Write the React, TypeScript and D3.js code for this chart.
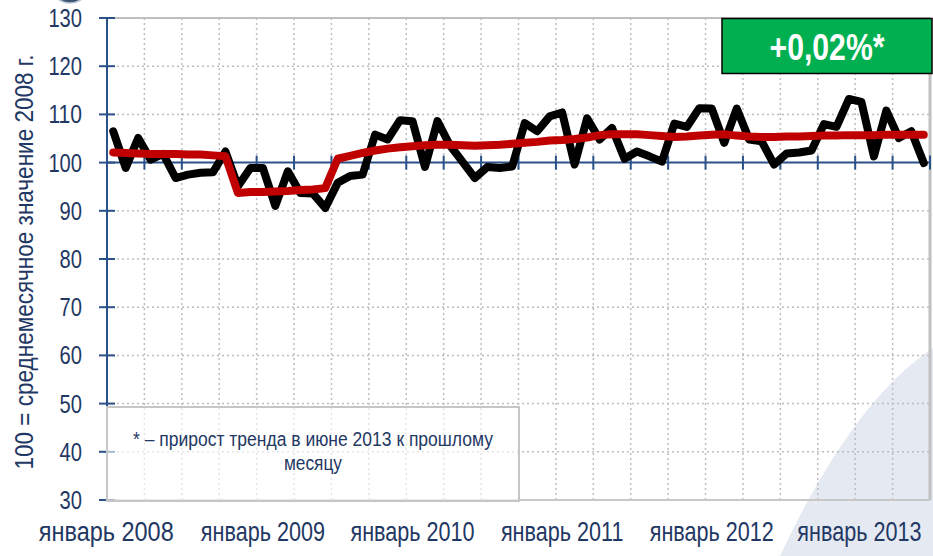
import * as d3 from 'd3';

// monthly index, 100 = average month of 2008
const months = d3.timeMonth.range(new Date(2008, 0, 1), new Date(2013, 6, 1));

const actual = [
  106.5, 98.9, 105.1, 100.6, 101.8, 96.8, 97.5, 97.9, 98.0, 102.3, 95.1, 98.9,
  98.9, 91.0, 98.2, 93.7, 93.6, 90.6, 95.8, 97.2, 97.5, 105.8, 104.8, 108.8,
  108.6, 99.1, 108.6, 103.6, 100.2, 96.8, 99.1, 98.9, 99.2, 108.2, 106.5, 109.6,
  110.4, 99.6, 109.2, 104.8, 107.2, 100.8, 102.3, 101.3, 100.2, 108.1, 107.4, 111.3,
  111.2, 104.1, 111.2, 104.8, 104.4, 99.6, 101.9, 102.1, 102.5, 108.0, 107.4, 113.2,
  112.6, 101.3, 110.8, 105.1, 106.5, 99.9,
];

const trend = [
  102.1, 102.0, 101.9, 101.8, 101.8, 101.8, 101.7, 101.7, 101.5, 101.3, 93.7, 93.9,
  93.9, 94.0, 94.1, 94.3, 94.4, 94.7, 100.8, 101.4, 102.0, 102.5, 102.9, 103.2,
  103.4, 103.6, 103.7, 103.7, 103.6, 103.5, 103.6, 103.7, 103.9, 104.1, 104.3, 104.6,
  104.7, 104.9, 105.2, 105.7, 105.9, 105.9, 105.9, 105.7, 105.5, 105.3, 105.4, 105.6,
  105.8, 105.9, 105.6, 105.4, 105.3, 105.3, 105.4, 105.4, 105.5, 105.6, 105.6, 105.7,
  105.7, 105.7, 105.8, 105.8, 105.8, 105.8,
];

const yTicks = [30, 40, 50, 60, 70, 80, 90, 100, 110, 120, 130];
const xLabels = ['январь 2008', 'январь 2009', 'январь 2010', 'январь 2011', 'январь 2012', 'январь 2013'];

const W = 933;
const H = 556;
const margin = { top: 18, right: 3, bottom: 56, left: 107 };
const navy = '#1f3864';
const axisBlue = '#2b5189';
const font = '"Liberation Sans", Arial, sans-serif';

export default function App() {
  const x0 = margin.left;
  const x1 = W - margin.right;
  const y0 = H - margin.bottom;
  const y1 = margin.top;

  const idx = d3.range(months.length);
  const x = d3.scalePoint<number>().domain(idx).range([x0, x1]).padding(0.5);
  const step = x.step();
  const y = d3.scaleLinear().domain([30, 130]).range([y0, y1]);

  // category boundaries every 3 months
  const bounds = d3.range(3, months.length, 3).map((k) => x0 + k * step);
  const axisTicks = d3.range(0, months.length + 1, 3).map((k) => x0 + k * step);

  const line = d3
    .line<number>()
    .x((_, i) => x(i) as number)
    .y((d) => y(d));

  return (
    <svg width={W} height={H} style={{ position: 'absolute', left: 0, top: 0 }} fontFamily={font}>
      <rect width={W} height={H} fill="#fff" />
      {/* slide decorations */}
      <ellipse cx={70} cy={-40} rx={28} ry={43} fill="#3d5573" stroke="#b8c4d4" strokeWidth={1.5} />
      <path d={`M 780 ${H} Q 852 402 ${W} 348 L ${W} ${H} Z`} fill="#e5e9f2" />

      {/* grid */}
      {yTicks.filter((t) => t !== 100 && t !== 30 && t !== 130).map((t) => (
        <line key={t} x1={x0} x2={x1} y1={y(t)} y2={y(t)} stroke="#bdbdbd" strokeWidth={1.5} strokeDasharray="2,3" />
      ))}
      {bounds.map((bx, i) => (
        <line key={i} x1={bx} x2={bx} y1={y1} y2={y0} stroke="#bdbdbd" strokeWidth={1.5} strokeDasharray="2,3" />
      ))}
      {/* plot border */}
      <line x1={x0} x2={x1} y1={y1} y2={y1} stroke="#bfbfbf" strokeWidth={2} />
      <line x1={x0} x2={x1} y1={y0} y2={y0} stroke="#c8c8c8" strokeWidth={2} />
      <line x1={x1} x2={x1} y1={y1} y2={y0} stroke="#c0c0c0" strokeWidth={3} />

      {/* horizontal axis at 100 */}
      <line x1={x0} x2={x1} y1={y(100)} y2={y(100)} stroke={axisBlue} strokeWidth={2} />
      {axisTicks.map((tx, i) => (
        <line key={i} x1={tx} x2={tx} y1={y(100) - 7} y2={y(100) + 7} stroke={axisBlue} strokeWidth={2} />
      ))}

      {/* y axis */}
      <line x1={x0} x2={x0} y1={y1} y2={y0} stroke={axisBlue} strokeWidth={2} />
      {yTicks.map((t) => (
        <g key={t}>
          <line x1={x0 - 8} x2={x0 + 8} y1={y(t)} y2={y(t)} stroke={axisBlue} strokeWidth={2} />
          <text
            x={82}
            y={y(t)}
            dy="0.36em"
            textAnchor="end"
            fontSize={25}
            fill={navy}
            textLength={String(t).length * 11.2}
            lengthAdjust="spacingAndGlyphs"
          >
            {t}
          </text>
        </g>
      ))}
      <text
        transform="translate(33,262) rotate(-90)"
        textAnchor="middle"
        fontSize={25}
        fill={navy}
        textLength={415}
        lengthAdjust="spacingAndGlyphs"
      >
        100 = среднемесячное значение 2008 г.
      </text>

      {/* x labels, condensed like the narrow slide font */}
      {xLabels.map((l, i) => (
        <text
          key={l}
          transform={`translate(${(x(i * 12) as number) + (i === 0 ? -7 : i === 5 ? -2 : 0)},541) scale(${i === 0 ? 0.87 : 0.8},1)`}
          textAnchor="middle"
          fontSize={27}
          fill={navy}
        >
          {l}
        </text>
      ))}

      {/* note box */}
      <rect x={107} y={407} width={412} height={94} fill="#fff" fillOpacity={0.6} stroke="#c6c6c6" strokeWidth={2} />
      <text x={313} y={446} textAnchor="middle" fontSize={20} fill={navy} textLength={360} lengthAdjust="spacingAndGlyphs">
        * – прирост тренда в июне 2013 к прошлому
      </text>
      <text x={313} y={470} textAnchor="middle" fontSize={20} fill={navy} textLength={58} lengthAdjust="spacingAndGlyphs">
        месяцу
      </text>

      {/* series */}
      <path d={line(actual) ?? ''} fill="none" stroke="#000" strokeWidth={8} strokeLinejoin="round" strokeLinecap="round" />
      <path d={line(trend) ?? ''} fill="none" stroke="#c00000" strokeWidth={8} strokeLinejoin="round" strokeLinecap="round" />

      {/* badge */}
      <rect x={722} y={18.5} width={210} height={55} fill="#00b050" stroke="#000" strokeWidth={1.5} />
      <text x={827} y={60} textAnchor="middle" fontSize={37} fontWeight="bold" fill="#fff" textLength={115} lengthAdjust="spacingAndGlyphs">
        +0,02%*
      </text>
    </svg>
  );
}
